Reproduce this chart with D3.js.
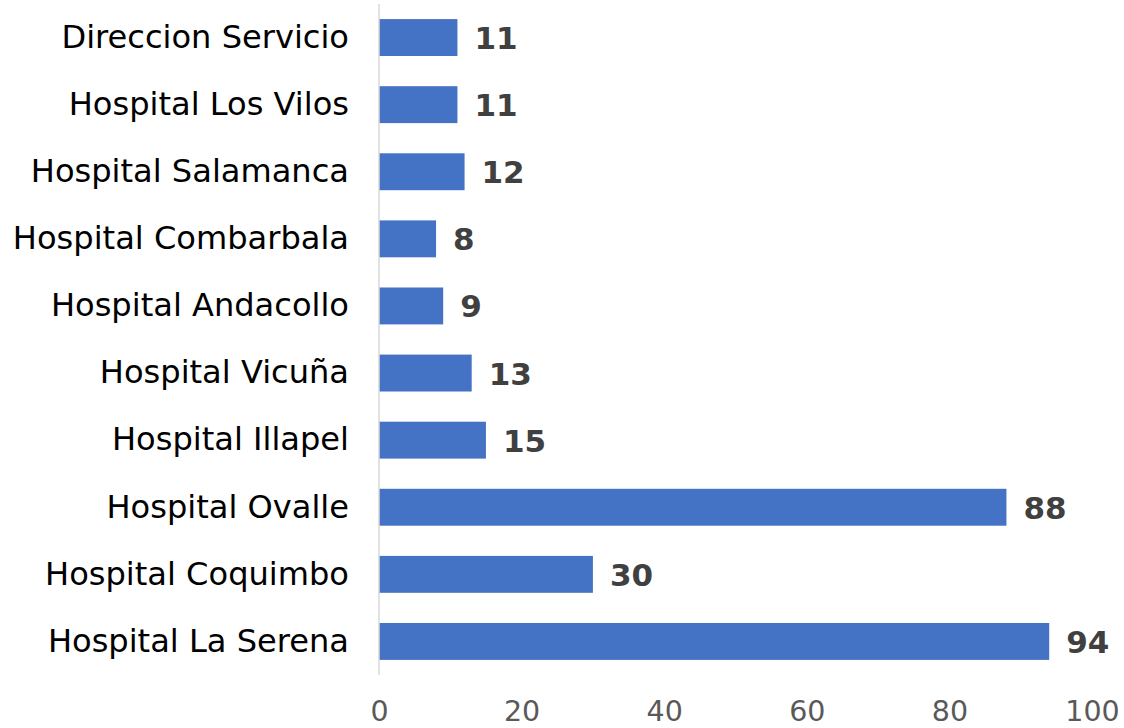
<!DOCTYPE html>
<html>
<head>
<meta charset="utf-8">
<script src="https://cdn.jsdelivr.net/npm/d3@7"></script>
<style>
  body { margin: 0; background: #fff; }
  svg { display: block; }
</style>
</head>
<body>
<svg id="chart"></svg>
<script>
// data, top to bottom as shown
const categories = [
  "Direccion Servicio", "Hospital Los Vilos", "Hospital Salamanca",
  "Hospital Combarbala", "Hospital Andacollo", "Hospital Vicuña",
  "Hospital Illapel", "Hospital Ovalle", "Hospital Coquimbo", "Hospital La Serena"
]
const values = [11, 11, 12, 8, 9, 13, 15, 88, 30, 94]
const xTicks = [0, 20, 40, 60, 80, 100]

const svgWidth = 1124, svgHeight = 728
const margin = { top: 4, right: 32, bottom: 53, left: 379 }
const width = svgWidth - margin.left - margin.right
const height = svgHeight - margin.top - margin.bottom

const svg = d3.select("#chart")
  .attr("width", svgWidth)
  .attr("height", svgHeight)

const g = svg.append("g")
  .attr("transform", "translate(" + margin.left + "," + margin.top + ")")

const x = d3.scaleLinear().domain([0, 100]).range([0, width])
const y = d3.scaleBand().domain(categories).range([0, height]).paddingInner(0.45).paddingOuter(0.225)

const data = categories.map((c, i) => ({ name: c, value: values[i] }))

g.selectAll("rect.bar")
  .data(data)
  .enter().append("rect")
  .attr("class", "bar")
  .attr("x", x(0))
  .attr("y", d => y(d.name))
  .attr("width", d => x(d.value) - x(0))
  .attr("height", y.bandwidth())
  .attr("fill", "#4472c4")

// value axis line
g.append("line")
  .attr("x1", x(0)).attr("x2", x(0))
  .attr("y1", 0).attr("y2", height)
  .attr("stroke", "#d9d9d9")
  .attr("stroke-width", 1.5)

// category labels
const yAxis = g.append("g").call(d3.axisLeft(y).tickSize(0).tickPadding(30))
yAxis.select(".domain").remove()
yAxis.selectAll("text")
  .attr("font-family", "'DejaVu Sans', Verdana, sans-serif")
  .attr("font-size", 32.1)
  .attr("fill", "#000")

// x tick labels
const xAxis = g.append("g")
  .attr("transform", "translate(0," + height + ")")
  .call(d3.axisBottom(x).tickValues(xTicks).tickSize(0).tickPadding(26))
xAxis.select(".domain").remove()
xAxis.selectAll("text")
  .attr("font-family", "'DejaVu Sans', Verdana, sans-serif")
  .attr("font-size", 28.5)
  .attr("fill", "#595959")

// value labels
g.selectAll("text.val")
  .data(data)
  .enter().append("text")
  .attr("class", "val")
  .attr("x", d => x(d.value) + 17)
  .attr("y", d => y(d.name) + y.bandwidth() / 2)
  .attr("dy", "0.37em")
  .attr("font-family", "'DejaVu Sans', Verdana, sans-serif")
  .attr("font-weight", "bold")
  .attr("font-size", 31)
  .attr("fill", "#404040")
  .text(d => d.value)
</script>
</body>
</html>
